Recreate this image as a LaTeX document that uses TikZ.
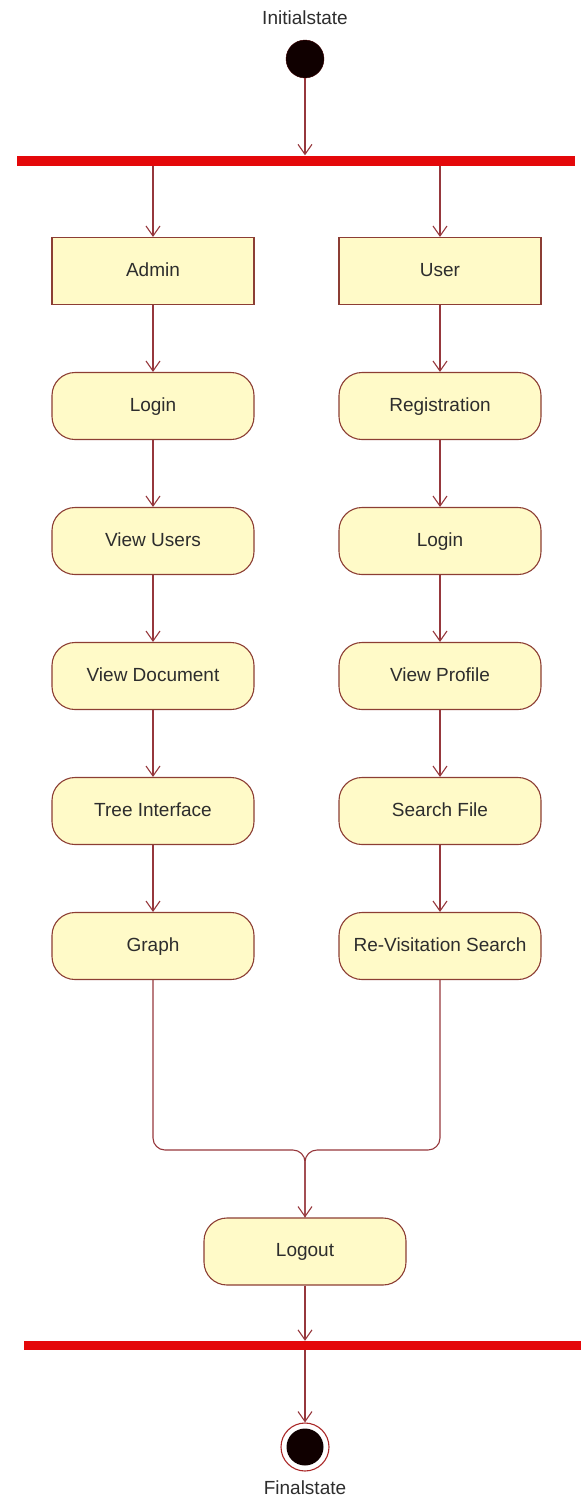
\documentclass[tikz,border=0pt]{standalone}
\usepackage{fontspec}
\setmainfont{Liberation Sans}
\usetikzlibrary{arrows.meta}
\definecolor{actfill}{RGB}{255,250,200}
\definecolor{actdraw}{RGB}{140,62,52}
\definecolor{flowline}{RGB}{150,55,60}
\definecolor{barred}{RGB}{228,8,10}
\definecolor{txt}{RGB}{45,45,45}
\tikzset{
  action/.style={rectangle, rounded corners=23pt, draw=actdraw, fill=actfill, line width=1.1pt,
    minimum width=202pt, minimum height=67pt, inner sep=0pt, text=txt,
    text height=14pt, text depth=4pt,
    font=\fontsize{19}{22}\selectfont},
  swim/.style={action, rounded corners=0pt},
  syncbar/.style={rectangle, fill=barred, inner sep=0pt},
  flow/.style={draw=flowline, line width=1.1pt, -{Straight Barb[length=10pt,width=14pt,line width=1.1pt]}},
  lbl/.style={text=txt, font=\fontsize{19}{22}\selectfont, inner sep=0pt}
}
\begin{document}
\begin{tikzpicture}[x=1pt,y=-1pt]
\useasboundingbox (0,0) rectangle (581,1499);
% initial
\node[lbl] (initlbl) at (305,18) {Initialstate};
\node[circle, fill={rgb,255:red,16;green,0;blue,0}, draw={rgb,255:red,60;green,0;blue,0}, minimum size=38pt, inner sep=0pt] (init) at (305,59) {};
% top bar
\node[syncbar, minimum width=558pt, minimum height=10pt] (fork) at (296,160.5) {};
% left column
\node[swim] (admin) at (153,271) {Admin};
\node[action] (alogin) at (153,406) {Login};
\node[action] (vusers) at (153,541) {View Users};
\node[action] (vdoc) at (153,676) {View Document};
\node[action] (tree) at (153,811) {Tree Interface};
\node[action] (graph) at (153,946) {Graph};
% right column
\node[swim] (user) at (440,271) {User};
\node[action] (reg) at (440,406) {Registration};
\node[action] (ulogin) at (440,541) {Login};
\node[action] (vprof) at (440,676) {View Profile};
\node[action] (sfile) at (440,811) {Search File};
\node[action] (revis) at (440,946) {Re-Visitation Search};
% logout
\node[action] (logout) at (305,1251.5) {Logout};
% bottom bar
\node[syncbar, minimum width=557pt, minimum height=9pt] (join) at (302.5,1345.5) {};
% final
\node[circle, draw={rgb,255:red,170;green,40;blue,40}, fill=white, line width=1.1pt, minimum size=48pt, inner sep=0pt] (final) at (305,1447) {};
\node[circle, fill={rgb,255:red,16;green,0;blue,0}, minimum size=37pt, inner sep=0pt] (finalin) at (305,1447) {};
\node[lbl] (finallbl) at (305,1488) {Finalstate};
\coordinate (merge) at (305,1150);
% connectors
\draw[flow] (init) -- (init |- fork.north);
\draw[flow] (fork.south -| admin.north) -- (admin.north);
\draw[flow] (fork.south -| user.north) -- (user.north);
\draw[flow] (admin) -- (alogin);
\draw[flow] (alogin) -- (vusers);
\draw[flow] (vusers) -- (vdoc);
\draw[flow] (vdoc) -- (tree);
\draw[flow] (tree) -- (graph);
\draw[flow] (user) -- (reg);
\draw[flow] (reg) -- (ulogin);
\draw[flow] (ulogin) -- (vprof);
\draw[flow] (vprof) -- (sfile);
\draw[flow] (sfile) -- (revis);
\draw[draw=flowline, line width=1.1pt, rounded corners=12pt] (graph.south) |- (merge) -- (logout.north);
\draw[flow, rounded corners=12pt] (revis.south) |- (merge) -- (logout.north);
\draw[flow] (logout) -- (logout |- join.north);
\draw[flow] (join.south -| final.north) -- (final.north);
\end{tikzpicture}
\end{document}
